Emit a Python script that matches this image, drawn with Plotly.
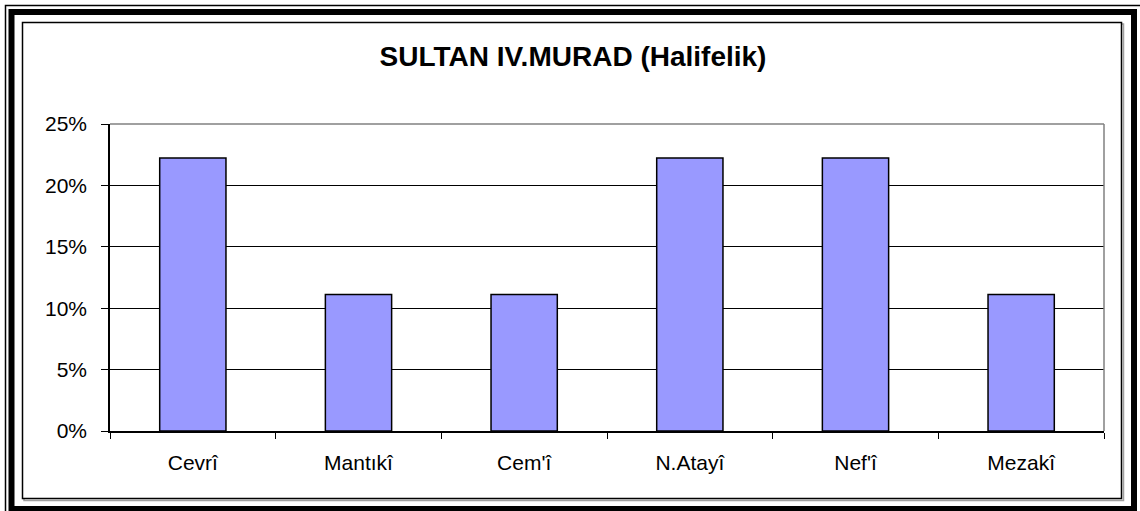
import plotly.graph_objects as go

categories = ["Cevrî", "Mantıkî", "Cem'î", "N.Atayî", "Nef'î", "Mezakî"]
values = [2/9, 1/9, 1/9, 2/9, 2/9, 1/9]
y_tick_vals = [0, 0.05, 0.10, 0.15, 0.20, 0.25]
y_tick_text = ["0%", "5%", "10%", "15%", "20%", "25%"]
title_text = "SULTAN IV.MURAD (Halifelik)"

W, H = 1140, 511
L, R, T, B = 110, 1104, 124, 431  # plot area in pixels

def px(x):
    return (x - L) / (R - L)

def py(y):
    return (B - y) / (B - T)

fig = go.Figure(go.Bar(
    x=categories, y=values,
    marker=dict(color="#9999FF", line=dict(color="black", width=1.5)),
))

shapes = []
# outer thin line (cropped at right/bottom)
shapes.append(dict(type="rect", xref="paper", yref="paper",
                   x0=px(5.5), x1=px(1150), y0=py(5.5), y1=py(525),
                   line=dict(color="black", width=1.5), layer="below"))
# thick band
shapes.append(dict(type="rect", xref="paper", yref="paper",
                   x0=px(11.5), x1=px(1134), y0=py(12), y1=py(509),
                   line=dict(color="black", width=6), layer="below"))
# inner box shadow
shapes.append(dict(type="rect", xref="paper", yref="paper",
                   x0=px(24), x1=px(1123.5), y0=py(24), y1=py(500.5),
                   line=dict(color="#A0A0A0", width=1.5), layer="below"))
# inner box
shapes.append(dict(type="rect", xref="paper", yref="paper",
                   x0=px(22.5), x1=px(1121.5), y0=py(22.5), y1=py(498.5),
                   fillcolor="white",
                   line=dict(color="black", width=1.5), layer="below"))
# plot area border top/right (gray)
shapes.append(dict(type="line", xref="paper", yref="paper",
                   x0=0, x1=1, y0=1, y1=1,
                   line=dict(color="#808080", width=1.5)))
shapes.append(dict(type="line", xref="paper", yref="paper",
                   x0=1, x1=1, y0=0, y1=1,
                   line=dict(color="#808080", width=1.5)))

fig.update_layout(
    width=W, height=H,
    margin=dict(l=L, r=W - R, t=T, b=H - B, pad=0),
    paper_bgcolor="white",
    plot_bgcolor="#C0C0C0",
    bargap=0.6,
    showlegend=False,
    shapes=shapes,
    font=dict(family="Liberation Sans, Arial, sans-serif", color="black", size=21),
    title=dict(text="<b>" + title_text + "</b>", x=573 / W, xanchor="center",
               xref="container", yref="container",
               y=1 - 56.5 / H, yanchor="middle",
               font=dict(size=28, color="black")),
)
fig.update_xaxes(
    showline=True, linecolor="black", linewidth=1.5,
    ticks="outside", tickson="boundaries", ticklen=6, tickcolor="black",
    tickwidth=1, showgrid=False,
    ticklabelstandoff=12,
    tickfont=dict(size=21),
)
fig.update_yaxes(
    range=[0, 0.25], tickvals=y_tick_vals, ticktext=y_tick_text,
    showline=True, linecolor="black", linewidth=1.5,
    ticks="outside", ticklen=7, tickcolor="black", tickwidth=1,
    showgrid=True, gridcolor="black", gridwidth=1,
    zeroline=False,
    ticklabelstandoff=10,
    tickfont=dict(size=21),
)

fig.write_html("out.html",
               config={"displayModeBar": False},
               post_script="document.body.style.margin='0';document.body.style.overflow='hidden';")
